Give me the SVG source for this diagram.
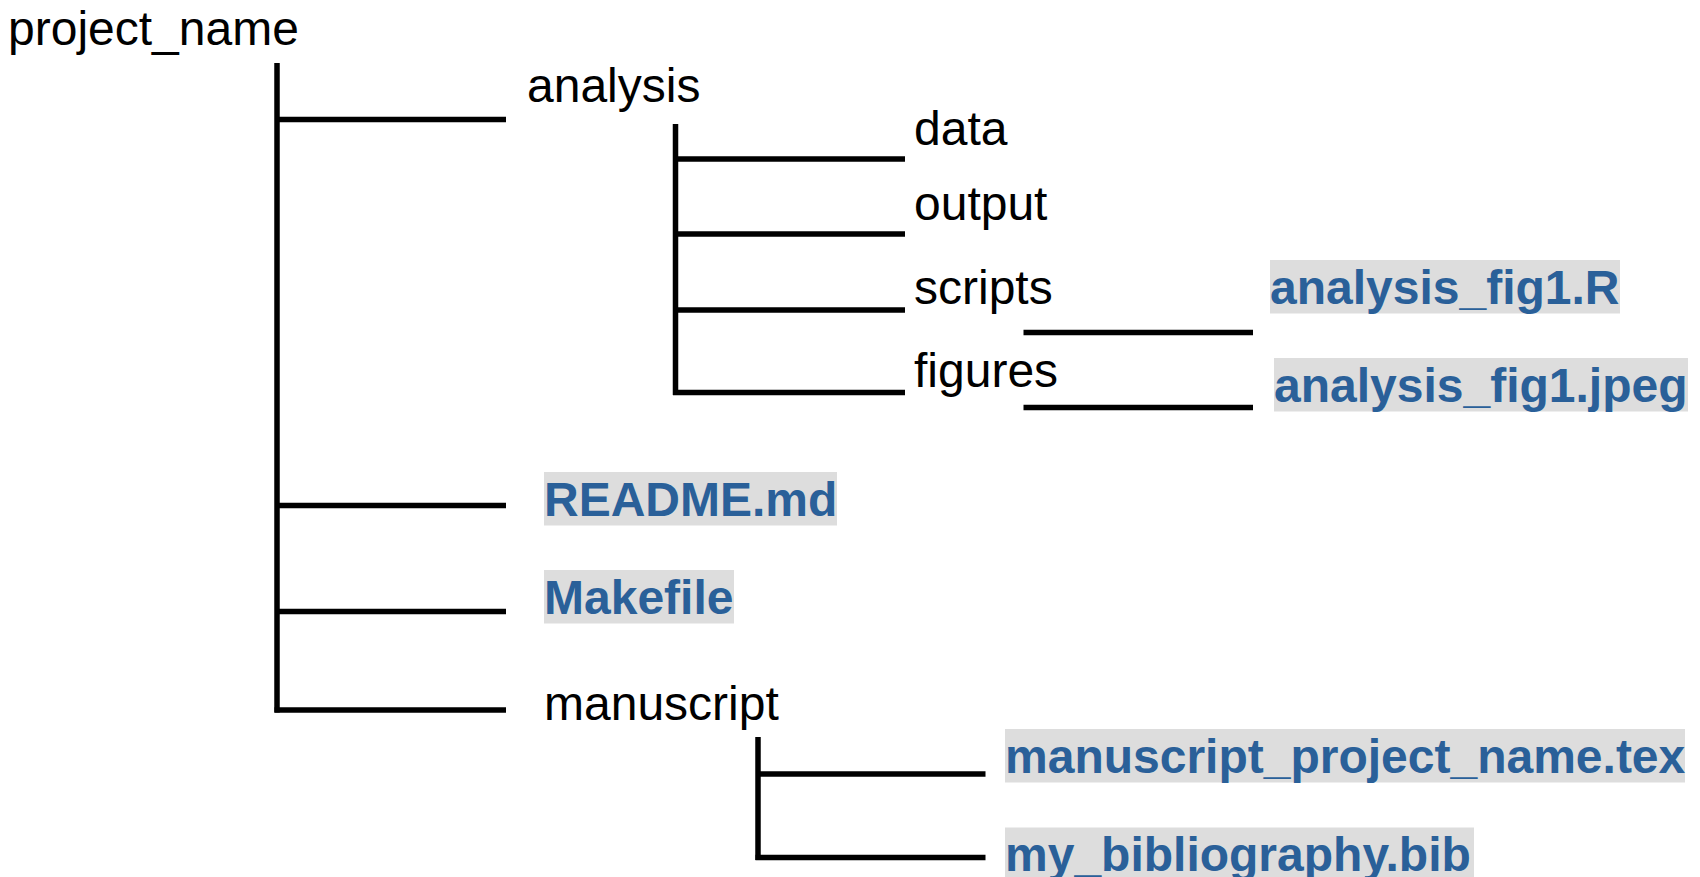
<svg xmlns="http://www.w3.org/2000/svg" width="1700" height="877" viewBox="0 0 1700 877">
  <style>
    .dir { font-family: "Liberation Sans", Arial, sans-serif; font-size: 48px; fill: #000000; }
    .file { font-family: "Liberation Sans", Arial, sans-serif; font-size: 48px; font-weight: bold; fill: #2a6099; }
    .hl { fill: #dddddd; }
    .tree line { stroke: #000000; stroke-width: 5.5; stroke-linecap: butt; }
  </style>
  <rect width="1700" height="877" fill="#ffffff"/>

  <!-- tree connectors -->
  <g id="connectors" class="tree">
    <!-- root trunk -->
    <line x1="277" y1="63" x2="277" y2="712.5"/>
    <line x1="277" y1="119.5" x2="506" y2="119.5"/>
    <line x1="277" y1="505.5" x2="506" y2="505.5"/>
    <line x1="277" y1="611.5" x2="506" y2="611.5"/>
    <line x1="274.5" y1="710" x2="506" y2="710"/>
    <!-- analysis branch -->
    <line x1="675.5" y1="124" x2="675.5" y2="395"/>
    <line x1="675.5" y1="159" x2="905" y2="159"/>
    <line x1="675.5" y1="234" x2="905" y2="234"/>
    <line x1="675.5" y1="310" x2="905" y2="310"/>
    <line x1="673" y1="392.5" x2="905" y2="392.5"/>
    <!-- file links next to scripts / figures -->
    <line x1="1023.5" y1="332.5" x2="1253" y2="332.5"/>
    <line x1="1023.5" y1="407.5" x2="1253" y2="407.5"/>
    <!-- manuscript branch -->
    <line x1="758" y1="737" x2="758" y2="860"/>
    <line x1="758" y1="774" x2="985.5" y2="774"/>
    <line x1="755.5" y1="857.5" x2="985.5" y2="857.5"/>
  </g>

  <!-- folders -->
  <g id="project_name"><text class="dir" x="8" y="45">project_name</text></g>
  <g id="analysis"><text class="dir" x="527" y="101.5">analysis</text></g>
  <g id="data"><text class="dir" x="914" y="145">data</text></g>
  <g id="output"><text class="dir" x="914" y="220">output</text></g>
  <g id="scripts"><text class="dir" x="914" y="304">scripts</text></g>
  <g id="figures"><text class="dir" x="914" y="387">figures</text></g>
  <g id="manuscript"><text class="dir" x="544" y="720">manuscript</text></g>

  <!-- files -->
  <g id="analysis_fig1_R">
    <rect class="hl" x="1270" y="260" width="350" height="53.5"/>
    <text class="file" x="1270" y="303.5">analysis_fig1.R</text>
  </g>
  <g id="analysis_fig1_jpeg">
    <rect class="hl" x="1274" y="358" width="414" height="53.5"/>
    <text class="file" x="1274" y="401.5">analysis_fig1.jpeg</text>
  </g>
  <g id="readme">
    <rect class="hl" x="544" y="472" width="293" height="53.5"/>
    <text class="file" x="544" y="515.5">README.md</text>
  </g>
  <g id="makefile">
    <rect class="hl" x="544" y="570" width="190" height="53.5"/>
    <text class="file" x="544" y="613.5">Makefile</text>
  </g>
  <g id="manuscript_tex">
    <rect class="hl" x="1005" y="729" width="680" height="53.5"/>
    <text class="file" x="1005" y="772.5">manuscript_project_name.tex</text>
  </g>
  <g id="bibliography">
    <rect class="hl" x="1005" y="827.5" width="469" height="53.5"/>
    <text class="file" x="1005" y="871">my_bibliography.bib</text>
  </g>
</svg>
